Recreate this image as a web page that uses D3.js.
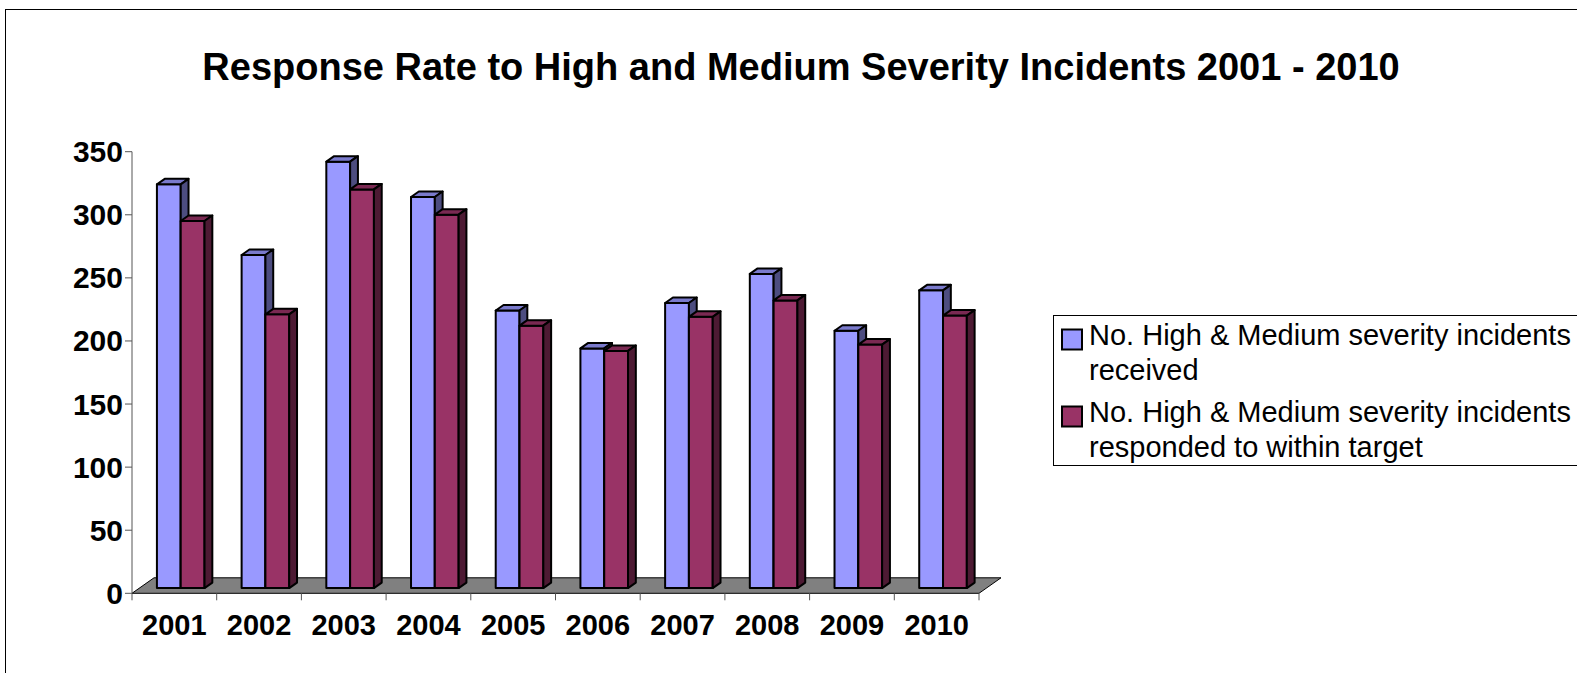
<!DOCTYPE html>
<html>
<head>
<meta charset="utf-8">
<script src="https://cdn.jsdelivr.net/npm/d3@7/dist/d3.min.js"></script>
<style>
  html, body { margin: 0; padding: 0; background: #ffffff; }
  svg { display: block; }
  text { font-family: "Liberation Sans", Arial, sans-serif; }
</style>
</head>
<body>
<svg id="chart" width="1577" height="673"></svg>
<script>
// ---- data ----
const title = "Response Rate to High and Medium Severity Incidents 2001 - 2010";
const years = ["2001","2002","2003","2004","2005","2006","2007","2008","2009","2010"];
const received = [320, 264, 338, 310, 220, 190, 226, 249, 204, 236];
const respondedWithinTarget = [291, 217, 316, 296, 208, 188, 215, 228, 193, 216];
const seriesNames = [
  ["No. High & Medium severity incidents", "received"],
  ["No. High & Medium severity incidents", "responded to within target"]
];
const yTicks = [0, 50, 100, 150, 200, 250, 300, 350];

// ---- styles ----
const faceColors = [
  { front: "#9999FF", top: "#7A7ACC", side: "#4D4D80" },
  { front: "#993366", top: "#7A2952", side: "#4D1A33" }
];

const svg = d3.select("#chart");

// outer border
svg.append("rect")
  .attr("x", 5.5).attr("y", 9.5)
  .attr("width", 1600).attr("height", 700)
  .attr("fill", "#fff").attr("stroke", "#000").attr("stroke-width", 1);

// title
svg.append("text")
  .attr("x", 801).attr("y", 80)
  .attr("text-anchor", "middle")
  .attr("font-size", 38).attr("font-weight", "bold")
  .text(title);

// scales
const x0 = 132, x1 = 979;
const x = d3.scaleBand().domain(years).range([x0, x1]).paddingInner(0).paddingOuter(0);
const y = d3.scaleLinear().domain([0, 350]).range([593.3, 151.7]);

// floor depth vector
const floorDx = 22, floorDy = -15.5;
const frontFrac = 0.335, backFrac = 0.69;
const fdx = floorDx * frontFrac, fdy = floorDy * frontFrac;
const bdx = floorDx * (backFrac - frontFrac), bdy = floorDy * (backFrac - frontFrac);

// floor
const y0 = y(0);
svg.append("path")
  .attr("d", `M${x0},${y0} L${x1},${y0} L${x1 + floorDx},${y0 + floorDy} L${x0 + floorDx},${y0 + floorDy} Z`)
  .attr("fill", "#808080").attr("stroke", "#000").attr("stroke-width", 1);

// y axis
svg.append("line")
  .attr("x1", x0).attr("x2", x0).attr("y1", y(350)).attr("y2", y0)
  .attr("stroke", "#555").attr("stroke-width", 1);
const yt = svg.append("g");
yTicks.forEach(t => {
  yt.append("line").attr("x1", x0 - 7).attr("x2", x0).attr("y1", y(t)).attr("y2", y(t))
    .attr("stroke", "#555").attr("stroke-width", 1);
  yt.append("text").attr("x", 123).attr("y", y(t))
    .attr("text-anchor", "end").attr("dominant-baseline", "central")
    .attr("font-size", 30).attr("font-weight", "bold").text(t);
});

// x axis ticks & labels
const xt = svg.append("g");
years.forEach((yr, i) => {
  const xs = x(yr);
  xt.append("line").attr("x1", xs).attr("x2", xs).attr("y1", y0).attr("y2", y0 + 7)
    .attr("stroke", "#555").attr("stroke-width", 1);
  xt.append("text").attr("x", xs + x.bandwidth() / 2).attr("y", 635)
    .attr("text-anchor", "middle")
    .attr("font-size", 29).attr("font-weight", "bold").text(yr);
});
xt.append("line").attr("x1", x1).attr("x2", x1).attr("y1", y0).attr("y2", y0 + 7)
  .attr("stroke", "#555").attr("stroke-width", 1);

// bars
const groupW = 47.6;
const inner = d3.scaleBand().domain([0, 1]).range([0, groupW]);
const series = [received, respondedWithinTarget];
const bars = svg.append("g");
years.forEach((yr, i) => {
  const cx = x(yr) + x.bandwidth() / 2 - groupW / 2 - 1;
  series.forEach((vals, s) => {
    const c = faceColors[s];
    const L = cx + inner(s) + fdx;
    const R = L + inner.bandwidth();
    const B = y(0) + fdy;
    const T = y(vals[i]) + fdy;
    const g = bars.append("g").attr("stroke", "#000").attr("stroke-width", 2).attr("stroke-linejoin", "round");
    g.append("path").attr("fill", c.front)
      .attr("d", `M${L},${B} L${R},${B} L${R},${T} L${L},${T} Z`);
    g.append("path").attr("fill", c.top)
      .attr("d", `M${L},${T} L${R},${T} L${R + bdx},${T + bdy} L${L + bdx},${T + bdy} Z`);
    g.append("path").attr("fill", c.side)
      .attr("d", `M${R},${B} L${R + bdx},${B + bdy} L${R + bdx},${T + bdy} L${R},${T} Z`);
  });
});

// legend
const lg = svg.append("g");
lg.append("rect").attr("x", 1053.5).attr("y", 315.5).attr("width", 600).attr("height", 150)
  .attr("fill", "#fff").attr("stroke", "#000").attr("stroke-width", 1);
const legendRows = [344.5, 421.5];
seriesNames.forEach((lines, s) => {
  const by = legendRows[s];
  lg.append("rect").attr("x", 1062).attr("y", by - 15).attr("width", 20).attr("height", 20)
    .attr("fill", faceColors[s].front).attr("stroke", "#000").attr("stroke-width", 2);
  lines.forEach((ln, k) => {
    lg.append("text").attr("x", 1089).attr("y", by + k * 35)
      .attr("font-size", 29).text(ln);
  });
});
</script>
</body>
</html>
